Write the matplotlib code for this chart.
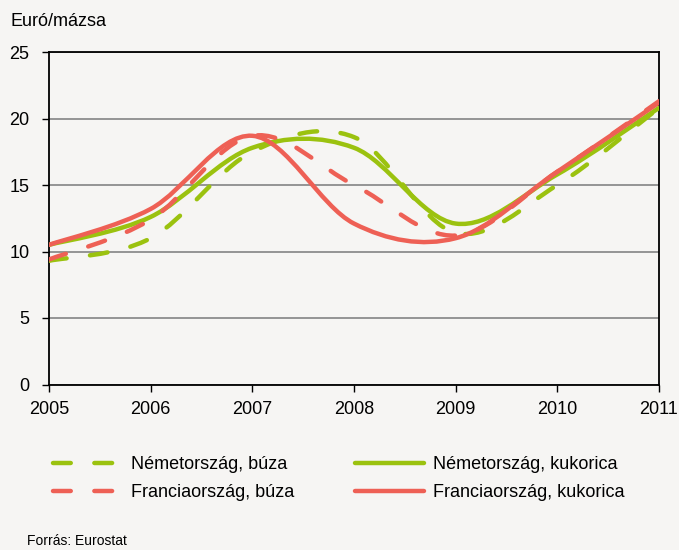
import numpy as np
import matplotlib
matplotlib.use("Agg")
import matplotlib.pyplot as plt
from matplotlib.path import Path
from matplotlib.patches import PathPatch
from matplotlib.lines import Line2D

years = [2005, 2006, 2007, 2008, 2009, 2010, 2011]
de_wheat = [9.3, 11.0, 17.5, 18.6, 11.4, 15.0, 20.8]
de_corn = [10.5, 12.6, 17.8, 17.8, 12.1, 15.8, 20.8]
fr_wheat = [9.4, 12.4, 18.7, 15.0, 11.2, 16.0, 21.3]
fr_corn = [10.5, 13.2, 18.7, 12.1, 11.0, 16.0, 21.2]
labels = ["Németország, búza", "Németország, kukorica",
          "Franciaország, búza", "Franciaország, kukorica"]

green = "#9bc20f"
red = "#ee6055"
bg = "#f6f5f3"
dash = (0, (4.0, 5.3))

plt.rcParams['font.family'] = ['Liberation Sans', 'DejaVu Sans']


def smooth_path(x, y):
    # Excel-style smoothed line: Catmull-Rom segments as cubic Beziers
    p = np.column_stack([x, y]).astype(float)
    ext = np.vstack([p[0], p, p[-1]])
    verts = [p[0]]
    codes = [Path.MOVETO]
    for i in range(len(p) - 1):
        p0, p1, p2, p3 = ext[i], ext[i + 1], ext[i + 2], ext[i + 3]
        verts += [p1 + (p2 - p0) / 6, p2 - (p3 - p1) / 6, p2]
        codes += [Path.CURVE4] * 3
    return Path(verts, codes)


fig = plt.figure(figsize=(6.79, 5.5), dpi=100, facecolor=bg)
ax = fig.add_axes([49 / 679, 1 - 384.5 / 550, 610 / 679, 332.5 / 550])
ax.set_facecolor(bg)

series = [(de_wheat, green, dash), (de_corn, green, '-'),
          (fr_wheat, red, dash), (fr_corn, red, '-')]
handles = []
for vals, col, ls in series:
    patch = PathPatch(smooth_path(years, vals), fill=False, edgecolor=col,
                      linewidth=3.2, linestyle=ls, zorder=3)
    patch.set_capstyle('round')
    patch.set_joinstyle('round')
    ax.add_patch(patch)
    handles.append(Line2D([], [], color=col, linewidth=3.2, linestyle=ls,
                          dash_capstyle='round', solid_capstyle='round'))

ax.set_xlim(2005, 2011)
ax.set_ylim(0, 25)
ax.set_xticks(years)
ax.set_yticks([0, 5, 10, 15, 20, 25])
ax.grid(axis='y', color='#8c8c8c', linewidth=1.3)
ax.set_axisbelow(True)
for s in ax.spines.values():
    s.set_color('black')
    s.set_linewidth(1.3)
ax.tick_params(direction='out', length=5, width=1, labelsize=13, pad=7)
ax.tick_params(axis='y', pad=9)

# legend fills by column, so reorder to get rows as in the original
order = [0, 2, 1, 3]
leg = fig.legend([handles[i] for i in order], [labels[i] for i in order],
                 ncol=2, loc='upper left',
                 bbox_to_anchor=(53 / 679, 1 - 456 / 550), frameon=False,
                 fontsize=13, handlelength=3.8, handletextpad=0.5,
                 columnspacing=3.4, labelspacing=0.6, borderpad=0,
                 borderaxespad=0)

fig.text(10 / 679, 1 - 22 / 550, "Euró/mázsa", fontsize=13, va='center')
fig.text(27 / 679, 1 - 541 / 550, "Forrás: Eurostat", fontsize=10, va='center')

fig.savefig("out.png", dpi=100, facecolor=bg)
